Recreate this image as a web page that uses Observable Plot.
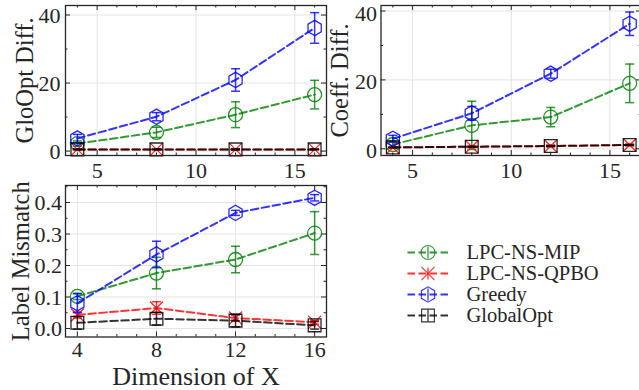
<!DOCTYPE html>
<html><head><meta charset="utf-8">
<script src="https://cdn.jsdelivr.net/npm/d3@7"></script>
<script src="https://cdn.jsdelivr.net/npm/@observablehq/plot@0.6"></script>
<style>
html,body{margin:0;padding:0;background:#fff;}
#page{position:relative;width:639px;height:390px;overflow:hidden;background:#fff;}
#page > svg{position:absolute;}
#page svg, #page svg text{font-family:"Liberation Serif","DejaVu Serif",serif !important;}
</style></head><body><div id="page"></div>
<script>
// ---------- data ----------
const dims = [4, 8, 12, 16];
const methods = ["LPC-NS-MIP", "LPC-NS-QPBO", "Greedy", "GlobalOpt"];
const colors = ["#008000", "#ff0000", "#0000ff", "#000000"];
const symbols = ["circle", "times", "hexagon", "square"];

// GloOpt Diff.
const gloMIP = [2.2, 5.5, 10.7, 16.6];
const gloMIPErr = [0.8, 1.5, 3.8, 4.2];
const gloQPBO = [0.5, 0.5, 0.5, 0.5];
const gloQPBOErr = [0.1, 0.1, 0.1, 0.1];
const gloGreedy = [3.7, 10.1, 20.9, 36.2];
const gloGreedyErr = [1.2, 1.2, 3.3, 4.5];
const gloGlobal = [0.5, 0.5, 0.5, 0.5];
const gloGlobalErr = [0.1, 0.1, 0.1, 0.1];

// Coeff. Diff.
const coefMIP = [1.25, 6.8, 9.2, 19.0];
const coefMIPErr = [1.0, 7.0, 2.8, 5.6];
const coefQPBO = [0.4, 0.6, 0.8, 1.1];
const coefQPBOErr = [0.2, 0.2, 0.3, 0.3];
const coefGreedy = [2.9, 10.3, 21.8, 36.3];
const coefGreedyErr = [1.0, 2.0, 1.3, 3.4];
const coefGlobal = [0.4, 0.6, 0.8, 1.1];
const coefGlobalErr = [0.1, 0.1, 0.1, 0.1];

// Label Mismatch
const labMIP = [0.102, 0.176, 0.219, 0.303];
const labMIPErr = [0.01, 0.05, 0.042, 0.068];
const labQPBO = [0.043, 0.065, 0.033, 0.020];
const labQPBOErr = [0.01, 0.02, 0.01, 0.006];
const labGreedy = [0.080, 0.235, 0.367, 0.415];
const labGreedyErr = [0.03, 0.042, 0.008, 0.01];
const labGlobal = [0.018, 0.031, 0.025, 0.010];
const labGlobalErr = [0.02, 0.02, 0.02, 0.012];

const topXTicks = [5, 10, 15];
const botXTicks = [4, 8, 12, 16];
const topYTicks = [0, 20, 40];
const botYTicks = [0, 0.1, 0.2, 0.3, 0.4];
const yLabels = ["GloOpt Diff.", "Coeff. Diff.", "Label Mismatch"];
const xLabel = "Dimension of X";

// ---------- helpers ----------
const FONT = "Liberation Serif";
const INK = "#262626";
const page = document.getElementById("page");

function toRows(vals, errs) {
  return methods.flatMap((m, i) => dims.map((x, j) => ({method: m, x, y: vals[i][j], err: errs[i][j]})));
}
const capSymbol = {draw(ctx, size) { const r = Math.sqrt(size / Math.PI); ctx.moveTo(-r, 0); ctx.lineTo(r, 0); }};
const vbarSymbol = {draw(ctx, size) { const r = Math.sqrt(size / Math.PI); ctx.moveTo(0, -r); ctx.lineTo(0, r); }};
const markerR = [7, 6, 6.6, 7.2];
const colorScale = {domain: methods, range: colors};

function panel(o) {
  const W = o.width - o.mL - o.mR, H = o.height - o.mT - o.mB;
  const marks = [
    Plot.ruleX(o.xTicks, {stroke: "#e4e4e4", strokeWidth: 1}),
    Plot.ruleY(o.yTicks, {stroke: "#e4e4e4", strokeWidth: 1}),
    Plot.tickX(o.xTicks, {x: d => d, insetTop: H - 5, stroke: INK}),
    Plot.tickX(o.xTicks, {x: d => d, insetBottom: H - 5, stroke: INK}),
    Plot.tickX(o.xMinor, {x: d => d, insetTop: H - 2.5, stroke: INK}),
    Plot.tickX(o.xMinor, {x: d => d, insetBottom: H - 2.5, stroke: INK}),
    Plot.tickY(o.yTicks, {y: d => d, insetRight: W - 5, stroke: INK}),
    Plot.tickY(o.yTicks, {y: d => d, insetLeft: W - 5, stroke: INK}),
    Plot.tickY(o.yMinor, {y: d => d, insetRight: W - 2.5, stroke: INK}),
    Plot.tickY(o.yMinor, {y: d => d, insetLeft: W - 2.5, stroke: INK}),
    Plot.axisX({ticks: o.xTicks, tickSize: 0, tickPadding: o.xPad, label: null, fontSize: 22, fill: INK}),
    Plot.axisY({ticks: o.yTicks, tickSize: 0, tickPadding: o.yPad, label: null, tickFormat: o.yFormat, dy: o.yDy, fontSize: 22, fill: INK})
  ];
  methods.forEach((m, i) => {
    const data = o.rows.filter(d => d.method === m);
    marks.push(
      Plot.line(data, {x: "x", y: "y", stroke: "method", strokeWidth: 2, strokeOpacity: 0.8, strokeDasharray: "7.5,3.5"}),
      Plot.ruleX(data, {x: "x", y1: d => d.y - d.err, y2: d => d.y + d.err, stroke: "method", strokeWidth: 1.5, strokeOpacity: 0.8}),
      Plot.dot(data, {x: "x", y: d => d.y - d.err, symbol: capSymbol, r: 4.5, stroke: "method", fill: "none", strokeWidth: 1.5, strokeOpacity: 0.8}),
      Plot.dot(data, {x: "x", y: d => d.y + d.err, symbol: capSymbol, r: 4.5, stroke: "method", fill: "none", strokeWidth: 1.5, strokeOpacity: 0.8}),
      Plot.dot(data, {x: "x", y: "y", symbol: symbols[i], r: markerR[i], stroke: "method", fill: "none", strokeWidth: 1.3, strokeOpacity: 0.85})
    );
  });
  marks.push(Plot.frame({stroke: INK, strokeWidth: 1.3}));
  marks.push(Plot.text([o.yLabel], {frameAnchor: "left", text: d => d, rotate: -90, textAnchor: "middle", lineAnchor: "middle", dx: o.yLabelDx, fontSize: 24.5, fontFamily: FONT, fill: INK}));
  if (o.xLabel) marks.push(Plot.text([o.xLabel], {frameAnchor: "bottom", text: d => d, textAnchor: "middle", lineAnchor: "middle", dy: o.xLabelDy, fontSize: 26, fontFamily: FONT, fill: INK}));
  const svg = Plot.plot({
    width: o.width, height: o.height,
    marginLeft: o.mL, marginRight: o.mR, marginTop: o.mT, marginBottom: o.mB,
    style: {fontFamily: FONT, fontSize: "22px", color: INK, background: "none", overflow: "visible"},
    x: {domain: o.xDomain, label: null},
    y: {domain: o.yDomain, label: null},
    color: colorScale,
    marks
  });
  svg.style.left = o.left + "px";
  svg.style.top = o.top + "px";
  page.appendChild(svg);
}

const xMinorAll = d3.range(4, 17);

panel({
  left: 0, top: 0, width: 330, height: 180, mL: 65, mR: 4, mT: 5, mB: 25,
  rows: toRows([gloMIP, gloQPBO, gloGreedy, gloGlobal], [gloMIPErr, gloQPBOErr, gloGreedyErr, gloGlobalErr]),
  xDomain: [3.4, 16.6], xTicks: topXTicks, xMinor: xMinorAll.filter(v => !topXTicks.includes(v)),
  yDomain: [-1.3, 42.8], yTicks: topYTicks, yMinor: [10, 30], yFormat: d3.format("d"),
  yLabel: yLabels[0], yLabelDx: -40, xPad: 7, yPad: 5, yDy: 0.5
});

panel({
  left: 320, top: 0, width: 321, height: 180, mL: 60.5, mR: 0, mT: 5, mB: 25,
  rows: toRows([coefMIP, coefQPBO, coefGreedy, coefGlobal], [coefMIPErr, coefQPBOErr, coefGreedyErr, coefGlobalErr]),
  xDomain: [3.4, 16.6], xTicks: topXTicks, xMinor: xMinorAll.filter(v => !topXTicks.includes(v)),
  yDomain: [-1.95, 41.6], yTicks: topYTicks, yMinor: [10, 30], yFormat: d3.format("d"),
  yLabel: yLabels[1], yLabelDx: -41, xPad: 7, yPad: 4, yDy: 2.5
});

panel({
  left: 0, top: 180, width: 330, height: 210, mL: 65, mR: 4, mT: 5, mB: 53.5,
  rows: toRows([labMIP, labQPBO, labGreedy, labGlobal], [labMIPErr, labQPBOErr, labGreedyErr, labGlobalErr]),
  xDomain: [3.4, 16.6], xTicks: botXTicks, xMinor: xMinorAll.filter(v => !botXTicks.includes(v)),
  yDomain: [-0.027, 0.454], yTicks: botYTicks, yMinor: [0.05, 0.15, 0.25, 0.35, 0.45], yFormat: d3.format(".1f"),
  yLabel: yLabels[2], yLabelDx: -44.5, xLabel: xLabel, xLabelDy: 39.5, xPad: 4, yPad: 3.5, yDy: 0.5
});

// ---------- legend ----------
{
  const marks = [
    Plot.link(methods, {x1: () => 0, x2: () => 1, y1: d => d, y2: d => d, stroke: d => d, strokeWidth: 2, strokeOpacity: 0.8, strokeDasharray: "7.5,3.5"})
  ];
  methods.forEach((m, i) => {
    marks.push(
      Plot.dot([m], {x: () => 0.5, y: d => d, symbol: vbarSymbol, r: 6, stroke: d => d, strokeWidth: 1.3, strokeOpacity: 0.8}),
      Plot.dot([m], {x: () => 0.5, y: d => d, symbol: symbols[i], r: markerR[i], stroke: d => d, fill: "none", strokeWidth: 1.1, strokeOpacity: 0.8})
    );
  });
  marks.push(Plot.text(methods, {x: () => 1, y: d => d, text: d => d, textAnchor: "start", dx: 18, fontSize: 20.5, fontFamily: FONT, fill: INK}));
  const svg = Plot.plot({
    width: 309, height: 150, margin: 0,
    style: {fontFamily: FONT, fontSize: "20px", color: INK, background: "none", overflow: "visible"},
    x: {domain: [0, 1], range: [77, 118], axis: null},
    y: {type: "point", domain: methods, range: [40, 126.7], axis: null},
    color: colorScale,
    marks
  });
  svg.style.left = "330px";
  svg.style.top = "200px";
  page.appendChild(svg);
}
</script>
</body></html>
